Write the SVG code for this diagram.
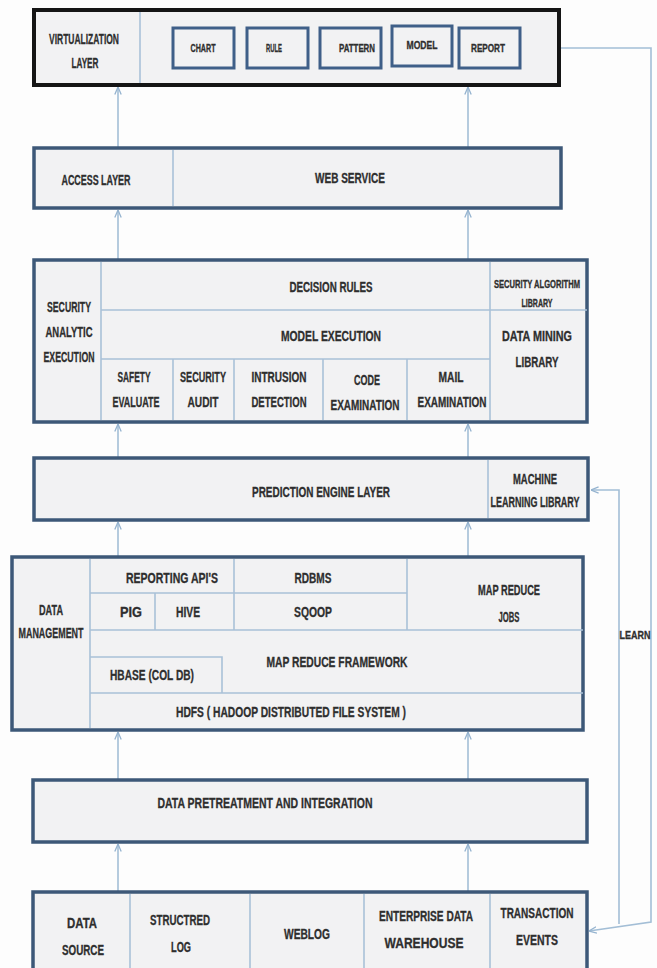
<svg xmlns="http://www.w3.org/2000/svg" width="657" height="968" viewBox="0 0 657 968">
<style>
.bx{fill:#f2f2f3;stroke:#3d5878;stroke-width:3.5}
.top{fill:#f2f2f3;stroke:#151515;stroke-width:4}
.ib{fill:#f2f2f3;stroke:#3f5f88;stroke-width:3}
.dv{stroke:#a9c1d8;stroke-width:1.6;fill:none}
.cn{stroke:#a3bed6;stroke-width:1.6;fill:none}
.t{font-family:"Liberation Sans",Arial,sans-serif;font-weight:bold;font-size:14px;fill:#2e2e2e;stroke:#2e2e2e;stroke-width:0.3;text-anchor:middle;dominant-baseline:central}
.s{font-size:10px}
.l{font-size:11px}
</style>
<defs>
<marker id="ah" viewBox="0 0 10 10" refX="9.5" refY="5" markerWidth="8" markerHeight="8" markerUnits="userSpaceOnUse" orient="auto">
<path d="M0,1 L9.5,5 L0,9" fill="none" stroke="#95b3cf" stroke-width="1.6"/>
</marker>
</defs>
<rect width="657" height="968" fill="#fdfdfd"/>

<g id="connectors">
<path class="cn" marker-end="url(#ah)" d="M118,148 V87"/>
<path class="cn" marker-end="url(#ah)" d="M468,148 V87"/>
<path class="cn" marker-end="url(#ah)" d="M118,260 V210"/>
<path class="cn" marker-end="url(#ah)" d="M468,260 V210"/>
<path class="cn" marker-end="url(#ah)" d="M118,458 V424"/>
<path class="cn" marker-end="url(#ah)" d="M468,458 V424"/>
<path class="cn" marker-end="url(#ah)" d="M118,557 V522"/>
<path class="cn" marker-end="url(#ah)" d="M468,557 V522"/>
<path class="cn" marker-end="url(#ah)" d="M118,780 V732"/>
<path class="cn" marker-end="url(#ah)" d="M468,780 V732"/>
<path class="cn" marker-end="url(#ah)" d="M118,892 V844"/>
<path class="cn" marker-end="url(#ah)" d="M468,892 V844"/>
<path class="cn" marker-end="url(#ah)" d="M561,48 H651 V922 L589,931"/>
<path class="cn" marker-end="url(#ah)" d="M619,924 V490 H591"/>
<text class="t l" x="635" y="635" textLength="31" lengthAdjust="spacingAndGlyphs">LEARN</text>
</g>

<g id="virtualization-layer">
<rect class="top" x="34" y="10" width="525" height="75"/>
<line class="dv" x1="140" y1="12" x2="140" y2="83"/>
<text class="t" x="84" y="39" textLength="70" lengthAdjust="spacingAndGlyphs">VIRTUALIZATION</text>
<text class="t" x="85" y="63" textLength="27" lengthAdjust="spacingAndGlyphs">LAYER</text>
</g>
<g id="chart"><rect class="ib" x="173" y="28" width="61" height="40"/><text class="t s" x="203" y="48" textLength="25" lengthAdjust="spacingAndGlyphs">CHART</text></g>
<g id="rule"><rect class="ib" x="247" y="28" width="61" height="40"/><text class="t s" x="274" y="48" textLength="16" lengthAdjust="spacingAndGlyphs">RULE</text></g>
<g id="pattern"><rect class="ib" x="320" y="28" width="61" height="40"/><text class="t s" x="357" y="48" textLength="36" lengthAdjust="spacingAndGlyphs">PATTERN</text></g>
<g id="model"><rect class="ib" x="392" y="26" width="60" height="40"/><text class="t s" x="422" y="45" textLength="31" lengthAdjust="spacingAndGlyphs">MODEL</text></g>
<g id="report"><rect class="ib" x="459" y="28" width="61" height="40"/><text class="t s" x="488" y="48" textLength="34" lengthAdjust="spacingAndGlyphs">REPORT</text></g>

<g id="access-layer">
<rect class="bx" x="34" y="148" width="527" height="60"/>
<line class="dv" x1="173" y1="150" x2="173" y2="206"/>
<text class="t" x="96" y="180" textLength="69" lengthAdjust="spacingAndGlyphs">ACCESS LAYER</text>
<text class="t" x="350" y="178" textLength="70" lengthAdjust="spacingAndGlyphs">WEB SERVICE</text>
</g>

<g id="security-analytic-execution">
<rect class="bx" x="34" y="260" width="553" height="162"/>
<path class="dv" d="M101,262 V420 M490,262 V420 M101,310 H587 M101,359 H490 M173,359 V420 M234,359 V420 M323,359 V420 M407,359 V420"/>
<text class="t" x="69" y="307" textLength="44" lengthAdjust="spacingAndGlyphs">SECURITY</text>
<text class="t" x="69" y="332" textLength="47" lengthAdjust="spacingAndGlyphs">ANALYTIC</text>
<text class="t" x="69" y="357" textLength="51" lengthAdjust="spacingAndGlyphs">EXECUTION</text>
<text class="t" x="331" y="287" textLength="83" lengthAdjust="spacingAndGlyphs">DECISION RULES</text>
<text class="t" x="331" y="336" textLength="100" lengthAdjust="spacingAndGlyphs">MODEL EXECUTION</text>
<text class="t s" x="537" y="284" textLength="86" lengthAdjust="spacingAndGlyphs">SECURITY ALGORITHM</text>
<text class="t s" x="537" y="303" textLength="31" lengthAdjust="spacingAndGlyphs">LIBRARY</text>
<text class="t" x="537" y="336" textLength="70" lengthAdjust="spacingAndGlyphs">DATA MINING</text>
<text class="t" x="537" y="362" textLength="43" lengthAdjust="spacingAndGlyphs">LIBRARY</text>
<text class="t" x="134" y="377" textLength="33" lengthAdjust="spacingAndGlyphs">SAFETY</text>
<text class="t" x="136" y="402" textLength="47" lengthAdjust="spacingAndGlyphs">EVALUATE</text>
<text class="t" x="203" y="377" textLength="46" lengthAdjust="spacingAndGlyphs">SECURITY</text>
<text class="t" x="203" y="402" textLength="31" lengthAdjust="spacingAndGlyphs">AUDIT</text>
<text class="t" x="279" y="377" textLength="55" lengthAdjust="spacingAndGlyphs">INTRUSION</text>
<text class="t" x="279" y="402" textLength="55" lengthAdjust="spacingAndGlyphs">DETECTION</text>
<text class="t" x="367" y="380" textLength="26" lengthAdjust="spacingAndGlyphs">CODE</text>
<text class="t" x="365" y="405" textLength="69" lengthAdjust="spacingAndGlyphs">EXAMINATION</text>
<text class="t" x="451" y="377" textLength="25" lengthAdjust="spacingAndGlyphs">MAIL</text>
<text class="t" x="452" y="402" textLength="69" lengthAdjust="spacingAndGlyphs">EXAMINATION</text>
</g>

<g id="prediction-engine-layer">
<rect class="bx" x="34" y="458" width="554" height="62"/>
<line class="dv" x1="488" y1="460" x2="488" y2="518"/>
<text class="t" x="321" y="492" textLength="138" lengthAdjust="spacingAndGlyphs">PREDICTION ENGINE LAYER</text>
<text class="t" x="535" y="479" textLength="44" lengthAdjust="spacingAndGlyphs">MACHINE</text>
<text class="t" x="535" y="502" textLength="89" lengthAdjust="spacingAndGlyphs">LEARNING LIBRARY</text>
</g>

<g id="data-management">
<rect class="bx" x="12" y="557" width="571" height="173"/>
<path class="dv" d="M90,559 V728 M90,593 H407 M90,630 H583 M90,657 H222 V693 M90,693 H583 M155,593 V630 M234,559 V630 M407,559 V630"/>
<text class="t" x="51" y="610" textLength="24" lengthAdjust="spacingAndGlyphs">DATA</text>
<text class="t" x="51" y="633" textLength="65" lengthAdjust="spacingAndGlyphs">MANAGEMENT</text>
<text class="t" x="172" y="578" textLength="92" lengthAdjust="spacingAndGlyphs">REPORTING API'S</text>
<text class="t" x="131" y="612" textLength="22" lengthAdjust="spacingAndGlyphs">PIG</text>
<text class="t" x="188" y="612" textLength="24" lengthAdjust="spacingAndGlyphs">HIVE</text>
<text class="t" x="313" y="578" textLength="37" lengthAdjust="spacingAndGlyphs">RDBMS</text>
<text class="t" x="313" y="612" textLength="38" lengthAdjust="spacingAndGlyphs">SQOOP</text>
<text class="t" x="509" y="590" textLength="62" lengthAdjust="spacingAndGlyphs">MAP REDUCE</text>
<text class="t" x="509" y="617" textLength="21" lengthAdjust="spacingAndGlyphs">JOBS</text>
<text class="t" x="337" y="662" textLength="141" lengthAdjust="spacingAndGlyphs">MAP REDUCE FRAMEWORK</text>
<text class="t" x="152" y="675" textLength="84" lengthAdjust="spacingAndGlyphs">HBASE (COL DB)</text>
<text class="t" x="291" y="712" textLength="230" lengthAdjust="spacingAndGlyphs">HDFS ( HADOOP DISTRIBUTED FILE SYSTEM )</text>
</g>

<g id="data-pretreatment">
<rect class="bx" x="33" y="780" width="554" height="62"/>
<text class="t" x="265" y="803" textLength="215" lengthAdjust="spacingAndGlyphs">DATA PRETREATMENT AND INTEGRATION</text>
</g>

<g id="data-sources">
<rect class="bx" x="33" y="892" width="554" height="82"/>
<path class="dv" d="M130,894 V968 M250,894 V968 M364,894 V968 M490,894 V968"/>
<text class="t" x="82" y="923" textLength="30" lengthAdjust="spacingAndGlyphs">DATA</text>
<text class="t" x="83" y="950" textLength="42" lengthAdjust="spacingAndGlyphs">SOURCE</text>
<text class="t" x="180" y="920" textLength="60" lengthAdjust="spacingAndGlyphs">STRUCTRED</text>
<text class="t" x="181" y="947" textLength="20" lengthAdjust="spacingAndGlyphs">LOG</text>
<text class="t" x="307" y="934" textLength="46" lengthAdjust="spacingAndGlyphs">WEBLOG</text>
<text class="t" x="426" y="916" textLength="94" lengthAdjust="spacingAndGlyphs">ENTERPRISE DATA</text>
<text class="t" x="424" y="943" textLength="79" lengthAdjust="spacingAndGlyphs">WAREHOUSE</text>
<text class="t" x="537" y="913" textLength="73" lengthAdjust="spacingAndGlyphs">TRANSACTION</text>
<text class="t" x="537" y="940" textLength="42" lengthAdjust="spacingAndGlyphs">EVENTS</text>
</g>
</svg>
